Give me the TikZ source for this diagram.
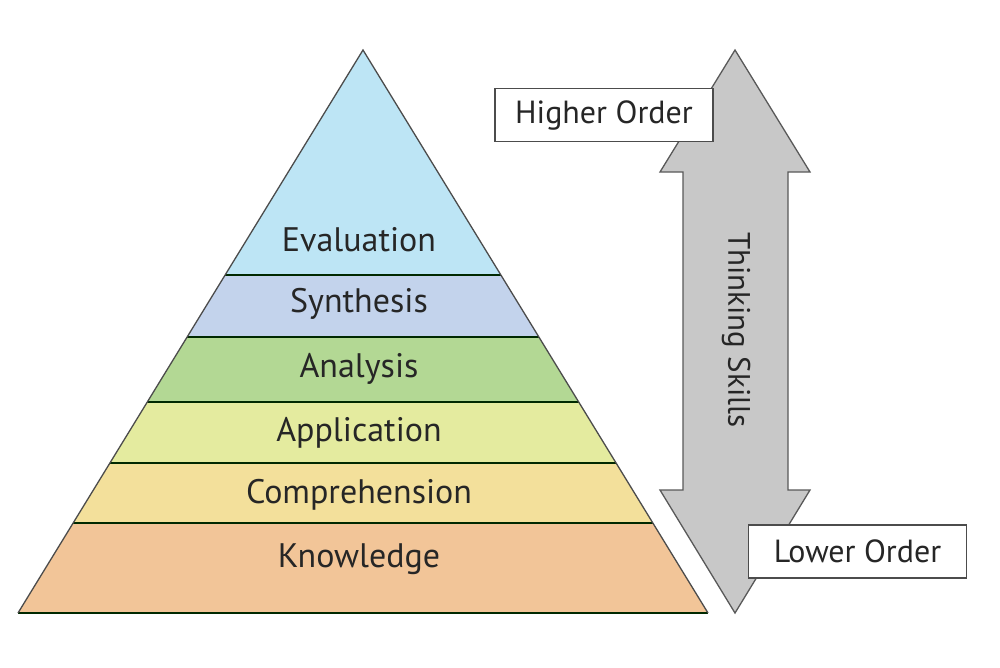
\documentclass[tikz,border=0pt]{standalone}
\usepackage{fontspec}
\setmainfont{PT Sans}
\begin{document}
\begin{tikzpicture}[x=1pt,y=-1pt,
  layer/.style={draw=black!60!green!40!black, line width=1.2pt},
  lbl/.style={font=\fontsize{34}{38}\selectfont, text=black!85},
  obox/.style={draw=black!70, line width=1.3pt, fill=white, minimum width=218pt, minimum height=53pt, font=\fontsize{32}{36}\selectfont, text=black!85, inner sep=0pt}]
\useasboundingbox (0,0) rectangle (1000,667);
\definecolor{cEval}{HTML}{BDE5F5}
\definecolor{cSyn}{HTML}{C3D3EC}
\definecolor{cAna}{HTML}{B3D894}
\definecolor{cApp}{HTML}{E4EB9F}
\definecolor{cCom}{HTML}{F3E09B}
\definecolor{cKno}{HTML}{F2C598}
\definecolor{cArr}{HTML}{C8C8C8}
% apex (363,50), slope 345/563
\coordinate (apex) at (363,50);
\def\hw#1{(#1-50)*0.6128}
\fill[cEval] (363,50) -- ({363-\hw{275}},275) -- ({363+\hw{275}},275) -- cycle;
\fill[cSyn] ({363-\hw{275}},275) -- ({363-\hw{337}},337) -- ({363+\hw{337}},337) -- ({363+\hw{275}},275) -- cycle;
\fill[cAna] ({363-\hw{337}},337) -- ({363-\hw{402}},402) -- ({363+\hw{402}},402) -- ({363+\hw{337}},337) -- cycle;
\fill[cApp] ({363-\hw{402}},402) -- ({363-\hw{463}},463) -- ({363+\hw{463}},463) -- ({363+\hw{402}},402) -- cycle;
\fill[cCom] ({363-\hw{463}},463) -- ({363-\hw{523}},523) -- ({363+\hw{523}},523) -- ({363+\hw{463}},463) -- cycle;
\fill[cKno] ({363-\hw{523}},523) -- ({363-\hw{613}},613) -- ({363+\hw{613}},613) -- ({363+\hw{523}},523) -- cycle;
\foreach \yy in {275,337,402,463,523}
  \draw[layer] ({363-\hw{\yy}},\yy) -- ({363+\hw{\yy}},\yy);
\draw[layer] ({363-\hw{613}},613) -- ({363+\hw{613}},613);
\draw[draw=black!70, line width=1.3pt] ({363-\hw{613}},613) -- (apex) -- ({363+\hw{613}},613);
\node[lbl] (eval) at (359,240) {Evaluation};
\node[lbl] (syn) at (359,304) {Synthesis};
\node[lbl] (ana) at (359,369) {Analysis};
\node[lbl] (app) at (359,433) {Application};
\node[lbl] (com) at (359,495) {Comprehension};
\node[lbl] (kno) at (359,559) {Knowledge};
% double arrow
\draw[fill=cArr, draw=black!65, line width=1.3pt, line join=miter]
  (735,50) -- (810,172) -- (788,172) -- (788,490) -- (810,490) -- (735,613)
  -- (660,490) -- (683,490) -- (683,172) -- (660,172) -- cycle;
\node[font=\fontsize{31}{34}\selectfont, text=black!85, rotate=-90] (ts) at (736,330) {Thinking Skills};
\node[obox] (hi) at (604,115) {Higher Order};
\node[obox] (lo) at (857.5,551.5) {Lower Order};
\end{tikzpicture}
\end{document}
